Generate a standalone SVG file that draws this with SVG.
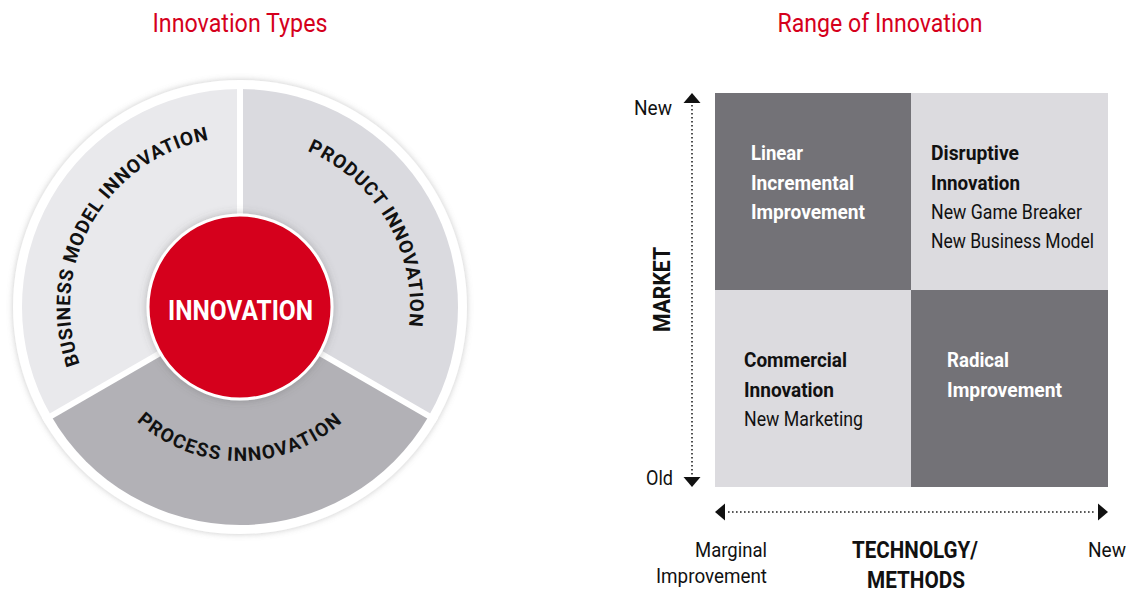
<svg xmlns="http://www.w3.org/2000/svg" width="1130" height="592" viewBox="0 0 1130 592">
<defs>
<style>
.t{font-family:Roboto,"Liberation Sans","DejaVu Sans",sans-serif;}
.title{font-size:26px;fill:#d5001c;}
.b{font-weight:bold;}
.body{font-size:21px;}
.arc{font-size:19px;font-weight:bold;fill:#111;letter-spacing:0.8px;}
.w{fill:#ffffff;}
.k{fill:#111111;}
.dark{fill:#737277;}
.light{fill:#dcdbdf;}
.dots{stroke:#222;stroke-width:1.6;stroke-dasharray:1.6 2.4;fill:none;}
.div{stroke:#fff;stroke-width:6;}
</style>
<filter id="sh" x="-20%" y="-20%" width="140%" height="140%">
<feDropShadow dx="0" dy="0" stdDeviation="3" flood-color="#888" flood-opacity="0.45"/>
</filter>
<filter id="sh2" x="-30%" y="-30%" width="160%" height="160%">
<feDropShadow dx="0" dy="0" stdDeviation="4" flood-color="#555" flood-opacity="0.35"/>
</filter>
<path id="pBiz" d="M109.8,416.3 A170,170 0 0 1 269.5,139.6"/>
<path id="pProd" d="M210.5,139.6 A170,170 0 0 1 370.2,416.3"/>
<path id="pProc" d="M95.3,359.7 A154,154 0 0 0 384.7,359.7"/>
</defs>
<rect width="1130" height="592" fill="#ffffff"/>

<text class="t title" x="240" y="32" text-anchor="middle" textLength="175" lengthAdjust="spacingAndGlyphs">Innovation Types</text>
<text class="t title" x="880" y="32" text-anchor="middle" textLength="205" lengthAdjust="spacingAndGlyphs">Range of Innovation</text>

<g id="wheel">
<circle cx="240" cy="307" r="227" fill="#ffffff" filter="url(#sh)"/>
<g id="node-business">
<path d="M240,307 L51.2,416 A218,218 0 0 1 240,89 Z" fill="#e9e9ec"/>
<text class="t arc"><textPath href="#pBiz" startOffset="50%" text-anchor="middle">BUSINESS MODEL INNOVATION</textPath></text>
</g>
<g id="node-product">
<path d="M240,307 L240,89 A218,218 0 0 1 428.8,416 Z" fill="#dadadf"/>
<text class="t arc"><textPath href="#pProd" startOffset="50%" text-anchor="middle">PRODUCT INNOVATION</textPath></text>
</g>
<g id="node-process">
<path d="M240,307 L428.8,416 A218,218 0 0 1 51.2,416 Z" fill="#b2b1b6"/>
<text class="t arc" style="letter-spacing:1.4px"><textPath href="#pProc" startOffset="50%" text-anchor="middle">PROCESS INNOVATION</textPath></text>
</g>
<g id="dividers">
<line class="div" x1="240" y1="307" x2="240" y2="80"/>
<line class="div" x1="240" y1="307" x2="436.6" y2="420.5"/>
<line class="div" x1="240" y1="307" x2="43.4" y2="420.5"/>
</g>
<g id="node-innovation">
<circle cx="240" cy="307" r="92" fill="#d5001c" stroke="#ffffff" stroke-width="3" filter="url(#sh2)"/>
<text class="t b w" x="240.5" y="320" font-size="28" text-anchor="middle" textLength="145" lengthAdjust="spacingAndGlyphs">INNOVATION</text>
</g>
</g>

<g id="matrix">
<g id="node-linear">
<rect class="dark" x="715" y="93" width="196" height="197"/>
<text class="t b body w" x="751" y="160" textLength="52" lengthAdjust="spacingAndGlyphs">Linear</text>
<text class="t b body w" x="751" y="189.5" textLength="103" lengthAdjust="spacingAndGlyphs">Incremental</text>
<text class="t b body w" x="751" y="219" textLength="114" lengthAdjust="spacingAndGlyphs">Improvement</text>
</g>
<g id="node-disruptive">
<rect class="light" x="911" y="93" width="197" height="197"/>
<text class="t b body k" x="931" y="160" textLength="88" lengthAdjust="spacingAndGlyphs">Disruptive</text>
<text class="t b body k" x="931" y="189.5" textLength="89" lengthAdjust="spacingAndGlyphs">Innovation</text>
<text class="t body k" x="931" y="219" textLength="151" lengthAdjust="spacingAndGlyphs">New Game Breaker</text>
<text class="t body k" x="931" y="248" textLength="163" lengthAdjust="spacingAndGlyphs">New Business Model</text>
</g>
<g id="node-commercial">
<rect class="light" x="715" y="290" width="196" height="197"/>
<text class="t b body k" x="744" y="367" textLength="103" lengthAdjust="spacingAndGlyphs">Commercial</text>
<text class="t b body k" x="744" y="396.5" textLength="90" lengthAdjust="spacingAndGlyphs">Innovation</text>
<text class="t body k" x="744" y="426" textLength="119" lengthAdjust="spacingAndGlyphs">New Marketing</text>
</g>
<g id="node-radical">
<rect class="dark" x="911" y="290" width="197" height="197"/>
<text class="t b body w" x="947" y="367" textLength="62" lengthAdjust="spacingAndGlyphs">Radical</text>
<text class="t b body w" x="947" y="396.5" textLength="115" lengthAdjust="spacingAndGlyphs">Improvement</text>
</g>
</g>

<g id="connectors">
<line class="dots" x1="692" y1="105" x2="692" y2="475"/>
<polygon points="692,93 683.5,103 700.5,103" fill="#111"/>
<polygon points="692,487 683.5,477 700.5,477" fill="#111"/>
<line class="dots" x1="728" y1="512" x2="1096" y2="512"/>
<polygon points="715,512 725,503.5 725,520.5" fill="#111"/>
<polygon points="1108,512 1098,503.5 1098,520.5" fill="#111"/>
</g>

<g id="axis-labels">
<text class="t body k" x="672" y="115" text-anchor="end" textLength="38" lengthAdjust="spacingAndGlyphs">New</text>
<text class="t body k" x="673" y="485" text-anchor="end" textLength="27" lengthAdjust="spacingAndGlyphs">Old</text>
<text class="t b k" font-size="23" transform="translate(670,289.5) rotate(-90)" text-anchor="middle" textLength="85" lengthAdjust="spacingAndGlyphs">MARKET</text>
<text class="t body k" x="767" y="557" text-anchor="end" textLength="72" lengthAdjust="spacingAndGlyphs">Marginal</text>
<text class="t body k" x="767" y="583" text-anchor="end" textLength="111" lengthAdjust="spacingAndGlyphs">Improvement</text>
<text class="t b k" font-size="23" x="915" y="558" text-anchor="middle" textLength="126" lengthAdjust="spacingAndGlyphs">TECHNOLGY/</text>
<text class="t b k" font-size="23" x="916" y="588" text-anchor="middle" textLength="98" lengthAdjust="spacingAndGlyphs">METHODS</text>
<text class="t body k" x="1088" y="557" textLength="38" lengthAdjust="spacingAndGlyphs">New</text>
</g>
</svg>
